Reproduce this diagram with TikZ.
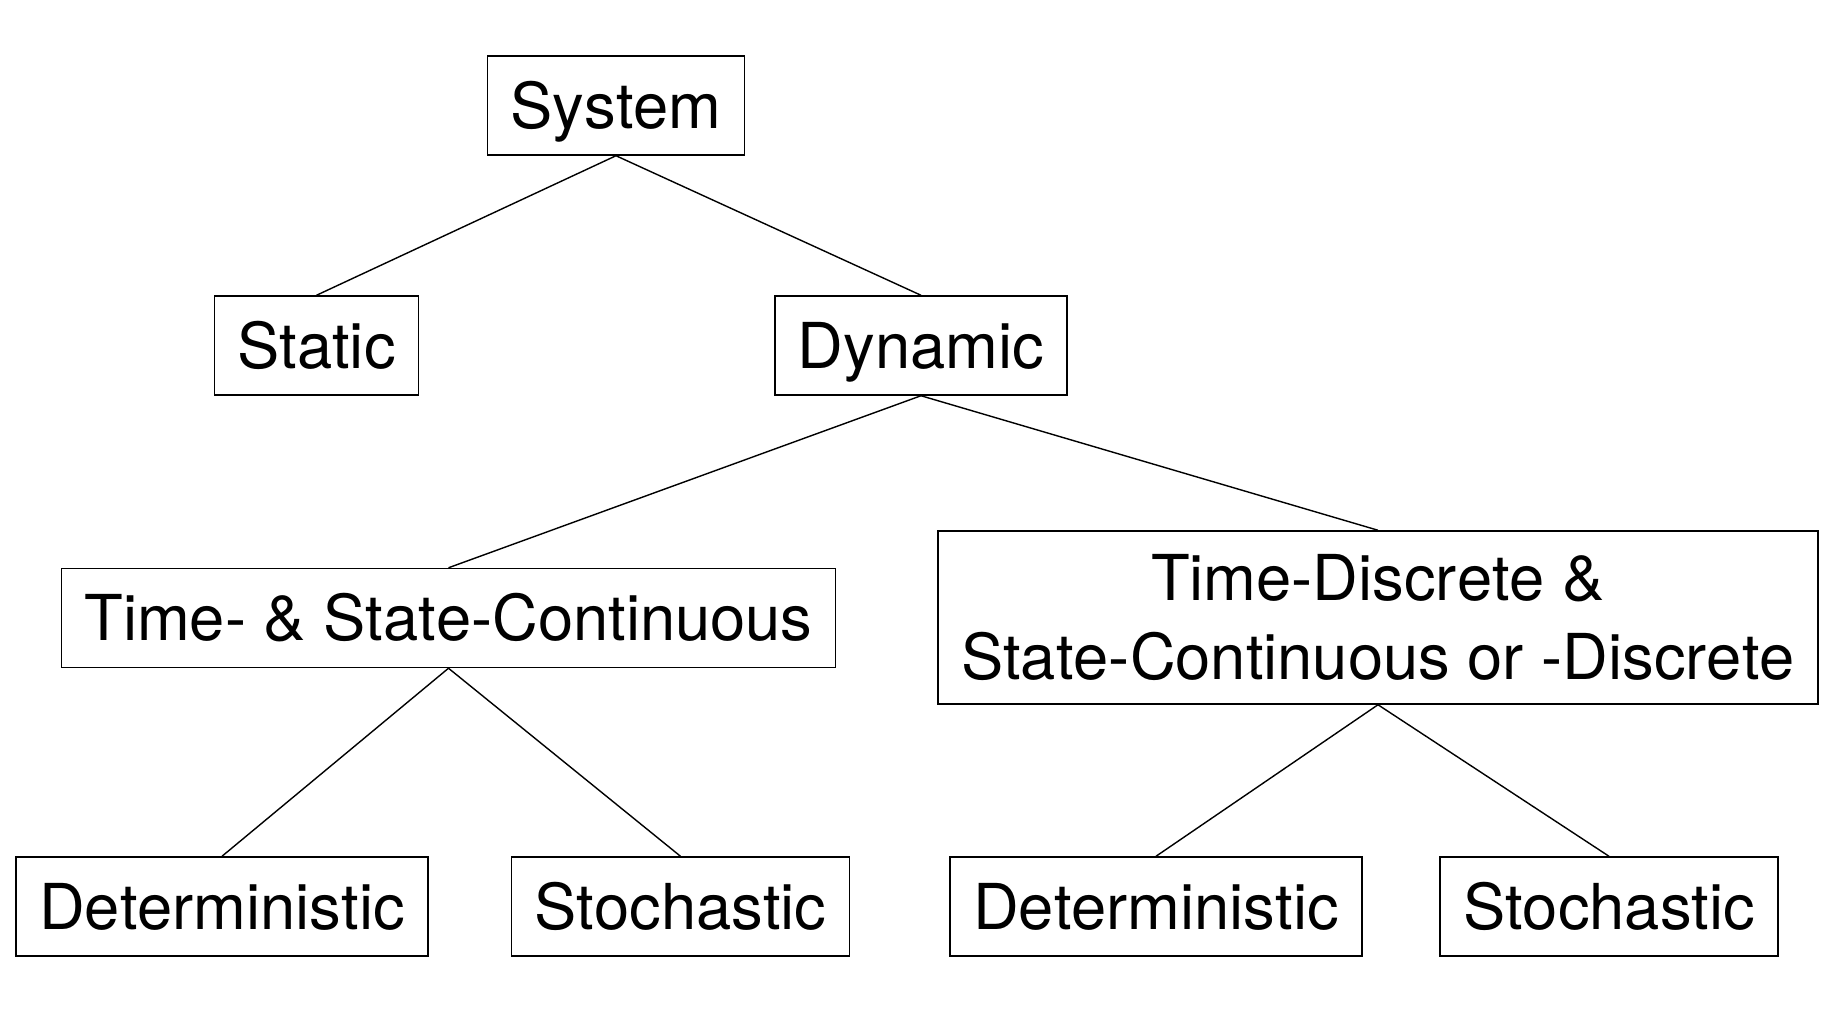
\documentclass[tikz,border=0pt]{standalone}
\usepackage{fontspec}
\setmainfont[Kerning=Off]{TeX Gyre Heros}
\begin{document}
\begin{tikzpicture}[x=0.01cm,y=-0.01cm,line width=0.4pt]
    \tikzstyle{block}=[draw, font=\fontsize{18pt}{22.3pt}\selectfont, inner xsep=0.23cm, text height=13pt, text depth=0pt, minimum height=0.99cm]
    \tikzstyle{wideblock}=[draw, font=\fontsize{18pt}{22.3pt}\selectfont, inner xsep=0.23cm, align=center, minimum height=1.73cm]
    \useasboundingbox (0,0) rectangle (1841,1030);
    \node[block] (sys) at (616,105.5){System};
    \node[block] (stat) at (316.5,345.5){Static};
    \node[block] (dyn) at (921,345.5){Dynamic};
    \node[block] (tsc) at (448.5,618){Time- \& State-Continuous};
    \node[wideblock] (tdd) at (1378,617.5){Time-Discrete \&\\State-Continuous or -Discrete};
    \node[block] (det1) at (222,906.5){Deterministic};
    \node[block] (sto1) at (680.5,906.5){Stochastic};
    \node[block] (det2) at (1156,906.5){Deterministic};
    \node[block] (sto2) at (1609,906.5){Stochastic};
    \draw (sys.south) -- (stat.north);
    \draw (sys.south) -- (dyn.north);
    \draw (dyn.south) -- (tsc.north);
    \draw (dyn.south) -- (tdd.north);
    \draw (tsc.south) -- (det1.north);
    \draw (tsc.south) -- (sto1.north);
    \draw (tdd.south) -- (det2.north);
    \draw (tdd.south) -- (sto2.north);
  \end{tikzpicture}
\end{document}
